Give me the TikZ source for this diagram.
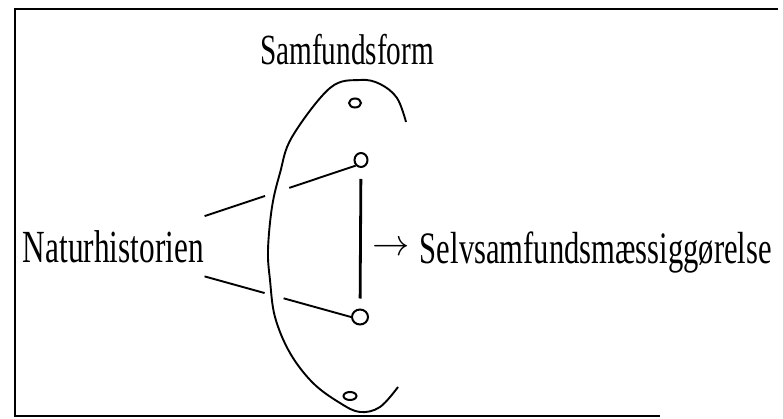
\documentclass[tikz,border=0pt]{standalone}
\usepackage{fontspec}
\newfontfamily\diafont[FakeStretch=0.68]{Liberation Serif}
\usetikzlibrary{calc,positioning,shapes.geometric}

\begin{document}
\begin{tikzpicture}[x=1pt, y=-1pt, line width=1.9pt,
  lbl/.style={inner sep=0pt, font=\diafont\fontsize{43}{50}\selectfont},
  dot/.style={draw, ellipse, inner sep=0pt, line width=2pt}]
  \useasboundingbox (0,0) rectangle (783,419);
  \draw (778,9) -- (15,9) -- (15,416) -- (660,416);

  \node[lbl, anchor=base] (samf) at (347,65) {Samfundsform};
  \node[lbl, anchor=base west, inner ysep=13pt,
        font=\diafont\fontsize{46}{52}\selectfont] (naturh) at (22,262) {Naturhistorien};
  \node[lbl, anchor=base west, font=\diafont\fontsize{45}{52}\selectfont]
    (selv) at (372,263)
    {\makebox[31pt][l]{\raisebox{7pt}{\scalebox{1.5}{$\rightarrow$}}}\hspace{16pt}Selvsamfundsmæssiggørelse};

  \node[dot, minimum width=12pt, minimum height=9pt] (topdot) at (355,103) {};
  \node[dot, minimum width=13pt, minimum height=14pt] (up) at (361,160) {};
  \node[dot, minimum width=16pt, minimum height=15pt] (low) at (360,317) {};
  \node[dot, minimum width=13pt, minimum height=8pt] (botdot) at (350,396) {};

  \draw plot[smooth, tension=0.6] coordinates {(406,122) (397,98) (380,84) (360,80)
    (330,88) (292,137) (280,173) (272,207) (268,250) (270,280) (275,317)
    (290,353) (313,383) (340,403) (360,412) (380,407) (398,387)};

  \draw[line width=2.8pt, shorten <=11pt, shorten >=10pt] (up) -- (low);
  \draw (naturh.north east) -- ($(naturh.north east)!.40!(up.south west)$)
        ($(naturh.north east)!.56!(up.south west)$) -- (up.south west);
  \draw (naturh.south east) -- ($(naturh.south east)!.41!(low.west)$)
        ($(naturh.south east)!.54!(low.west)$) -- (low.west);
\end{tikzpicture}
\end{document}
